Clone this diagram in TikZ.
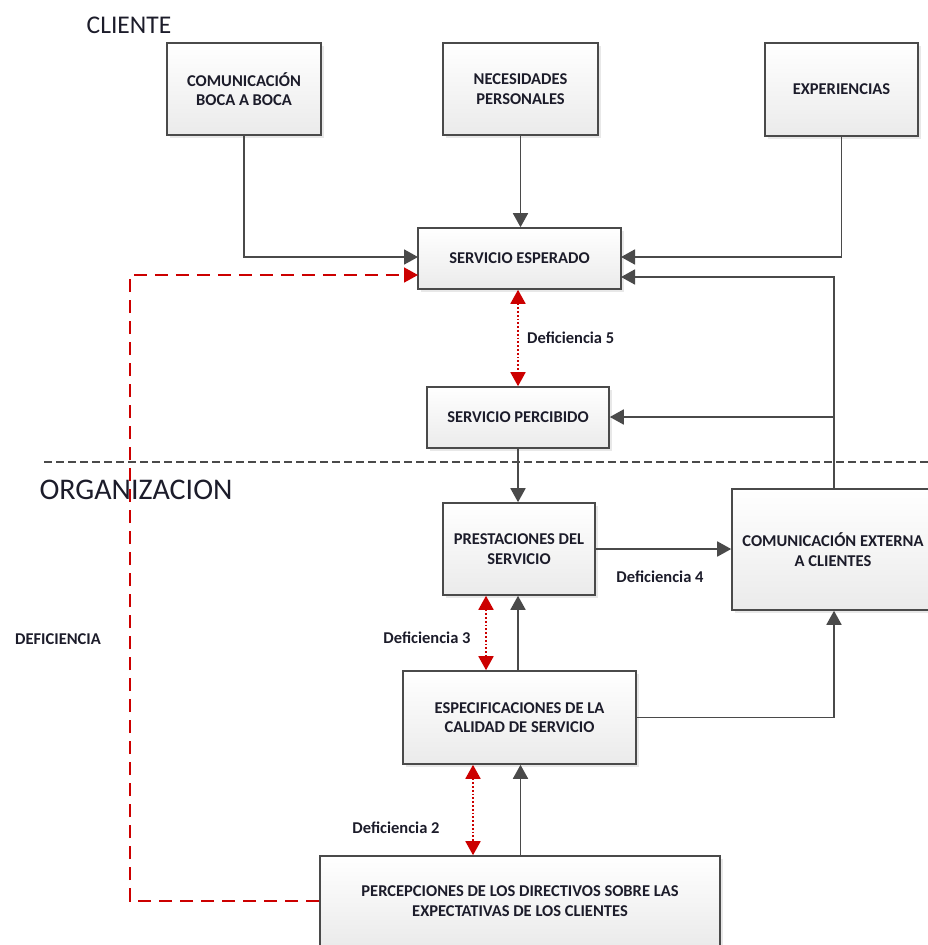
\documentclass[tikz,border=0pt]{standalone}
\usepackage{fontspec}
\setmainfont{Carlito}
\usetikzlibrary{arrows.meta, shadows}
\definecolor{line_gray}{HTML}{4A4A4A}
\definecolor{gap_red}{HTML}{CC0000}
\definecolor{ink}{HTML}{1C1C2A}
\tikzstyle{box_node} = [
    rectangle,
    draw=line_gray,
    line width=1.6pt,
    top color=white,
    bottom color=black!8,
    drop shadow={opacity=0.18, shadow xshift=3pt, shadow yshift=-3pt},
    text=ink,
    font=\fontsize{16.5}{19.5}\selectfont\bfseries,
    align=center,
    inner sep=0pt
]
\tikzstyle{flow_arrow} = [
    draw=line_gray,
    line width=1.8pt,
    -{Triangle[length=14pt, width=15pt]}
]
\tikzstyle{gap_arrow} = [
    draw=gap_red,
    line width=1.8pt,
    dotted,
    {Triangle[length=14pt, width=15pt]}-{Triangle[length=14pt, width=15pt]}
]
\tikzstyle{gap_label} = [
    text=ink,
    font=\fontsize{16.5}{19}\selectfont\bfseries,
    inner sep=0pt
]
\tikzstyle{side_title} = [
    text=ink,
    inner sep=0pt
]
\begin{document}
\begin{tikzpicture}[x=1pt, y=-1pt]
\useasboundingbox (0,0) rectangle (928,945);
% cliente
\node [side_title, font=\fontsize{25.5}{28}\selectfont] (cliente) at (129,25) {CLIENTE};
\node [box_node, minimum width=154pt, minimum height=92pt] (boca) at (244,89) {COMUNICACIÓN\\BOCA A BOCA};
\node [box_node, minimum width=155pt, minimum height=92pt] (necesidades) at (520.5,89) {NECESIDADES\\PERSONALES};
\node [box_node, minimum width=153pt, minimum height=93pt] (experiencias) at (841.5,89.5) {EXPERIENCIAS};
\node [box_node, minimum width=203pt, minimum height=61pt] (esperado) at (519.5,258.5) {SERVICIO ESPERADO};
\node [box_node, minimum width=182pt, minimum height=61pt] (percibido) at (518,417.5) {SERVICIO PERCIBIDO};
% separator
\draw [line_gray, line width=1.3pt, dash pattern=on 8pt off 4pt] (44,462) -- (930,462);
% organizacion
\node [side_title, font=\fontsize{30}{33}\selectfont] (organizacion) at (136,490) {ORGANIZACION};
\node [box_node, minimum width=152pt, minimum height=92pt] (prestaciones) at (519,549) {PRESTACIONES DEL\\SERVICIO};
\node [box_node, minimum width=202pt, minimum height=121pt] (externa) at (833,549.5) {COMUNICACIÓN EXTERNA\\A CLIENTES};
\node [box_node, minimum width=233pt, minimum height=93pt] (especificaciones) at (519.5,717.5) {ESPECIFICACIONES DE LA\\CALIDAD DE SERVICIO};
\node [box_node, minimum width=400pt, minimum height=90pt] (percepciones) at (520,901) {PERCEPCIONES DE LOS DIRECTIVOS SOBRE LAS\\EXPECTATIVAS DE LOS CLIENTES};
% labels
\node [gap_label] (deficiencia) at (58,639) {DEFICIENCIA};
\node [gap_label, anchor=west] (def5) at (527,338) {Deficiencia 5};
\node [gap_label] (def4) at (660,577) {Deficiencia 4};
\node [gap_label] (def3) at (427,638) {Deficiencia 3};
\node [gap_label] (def2) at (396,828) {Deficiencia 2};
% helper points
\coordinate (esp_high) at (418,257);
\coordinate (esp_red) at (418,275);
\coordinate (esp_right) at (621,257);
\coordinate (esp_low) at (621,277);
\coordinate (junction) at (834,417);
\coordinate (red_corner) at (130,901);
% gray connectors
\draw [flow_arrow] (boca.south) |- (esp_high);
\draw [flow_arrow] (necesidades.south) -- (esperado.north -| necesidades.south);
\draw [flow_arrow] (experiencias.south) |- (esp_right);
\draw [flow_arrow] (externa.north -| junction) |- (esp_low);
\draw [flow_arrow] (junction) -- (percibido.east |- junction);
\draw [flow_arrow] (percibido.south) -- (prestaciones.north -| percibido.south);
\draw [flow_arrow] (prestaciones.east) -- (externa.west |- prestaciones.east);
\draw [flow_arrow] (especificaciones.east) -| (externa.south -| junction);
\draw [flow_arrow] (especificaciones.north -| percibido.south) -- (prestaciones.south -| percibido.south);
\draw [flow_arrow] (percepciones.north -| necesidades.south) -- (especificaciones.south -| necesidades.south);
% red gaps
\draw [gap_arrow] (esperado.south -| percibido.south) -- (percibido.north);
\draw [gap_arrow] (prestaciones.south -| 486,0) -- (especificaciones.north -| 486,0);
\draw [gap_arrow] (especificaciones.south -| 473,0) -- (percepciones.north -| 473,0);
\draw [draw=gap_red, line width=1.6pt, dash pattern=on 13pt off 8pt, -{Triangle[length=14pt, width=15pt]}]
    (percepciones.west) -- (red_corner) |- (esp_red);
\end{tikzpicture}
\end{document}
